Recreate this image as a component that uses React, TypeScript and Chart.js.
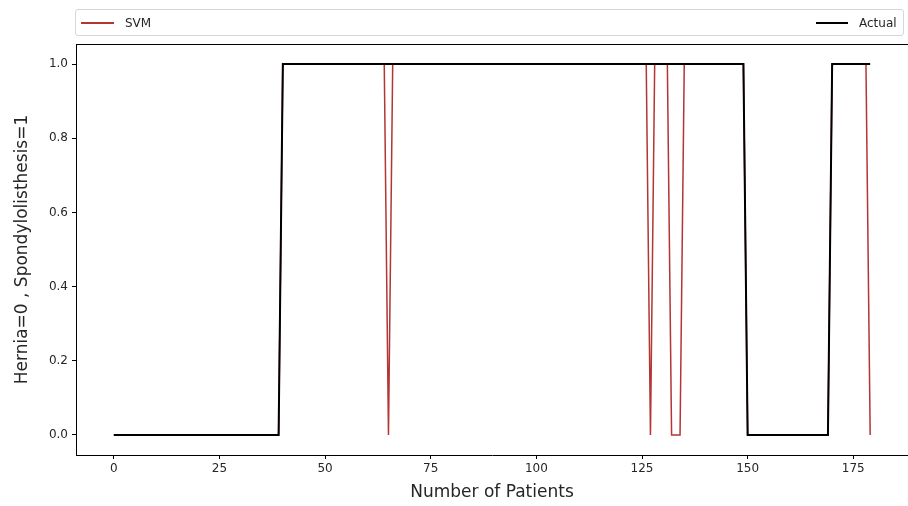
import React, { useEffect, useRef } from "react";
import { Chart, registerables } from "chart.js";

Chart.register(...registerables);

// Patient-by-patient class labels (Hernia=0, Spondylolisthesis=1), patients 0..179
const ACTUAL: number[] = [
  0, 0, 0, 0, 0, 0, 0, 0, 0, 0, 0, 0, 0, 0, 0, 0, 0, 0, 0, 0,
  0, 0, 0, 0, 0, 0, 0, 0, 0, 0, 0, 0, 0, 0, 0, 0, 0, 0, 0, 0,
  1, 1, 1, 1, 1, 1, 1, 1, 1, 1, 1, 1, 1, 1, 1, 1, 1, 1, 1, 1,
  1, 1, 1, 1, 1, 1, 1, 1, 1, 1, 1, 1, 1, 1, 1, 1, 1, 1, 1, 1,
  1, 1, 1, 1, 1, 1, 1, 1, 1, 1, 1, 1, 1, 1, 1, 1, 1, 1, 1, 1,
  1, 1, 1, 1, 1, 1, 1, 1, 1, 1, 1, 1, 1, 1, 1, 1, 1, 1, 1, 1,
  1, 1, 1, 1, 1, 1, 1, 1, 1, 1, 1, 1, 1, 1, 1, 1, 1, 1, 1, 1,
  1, 1, 1, 1, 1, 1, 1, 1, 1, 1, 0, 0, 0, 0, 0, 0, 0, 0, 0, 0,
  0, 0, 0, 0, 0, 0, 0, 0, 0, 0, 1, 1, 1, 1, 1, 1, 1, 1, 1, 1,
];

const SVM: number[] = [
  0, 0, 0, 0, 0, 0, 0, 0, 0, 0, 0, 0, 0, 0, 0, 0, 0, 0, 0, 0,
  0, 0, 0, 0, 0, 0, 0, 0, 0, 0, 0, 0, 0, 0, 0, 0, 0, 0, 0, 0,
  1, 1, 1, 1, 1, 1, 1, 1, 1, 1, 1, 1, 1, 1, 1, 1, 1, 1, 1, 1,
  1, 1, 1, 1, 1, 0, 1, 1, 1, 1, 1, 1, 1, 1, 1, 1, 1, 1, 1, 1,
  1, 1, 1, 1, 1, 1, 1, 1, 1, 1, 1, 1, 1, 1, 1, 1, 1, 1, 1, 1,
  1, 1, 1, 1, 1, 1, 1, 1, 1, 1, 1, 1, 1, 1, 1, 1, 1, 1, 1, 1,
  1, 1, 1, 1, 1, 1, 1, 0, 1, 1, 1, 1, 0, 0, 0, 1, 1, 1, 1, 1,
  1, 1, 1, 1, 1, 1, 1, 1, 1, 1, 0, 0, 0, 0, 0, 0, 0, 0, 0, 0,
  0, 0, 0, 0, 0, 0, 0, 0, 0, 0, 1, 1, 1, 1, 1, 1, 1, 1, 1, 0,
];

const X_TICKS: number[] = [0, 25, 50, 75, 100, 125, 150, 175];
const Y_TICKS: number[] = [0, 0.2, 0.4, 0.6, 0.8, 1.0];

const X_TITLE = "Number of Patients";
const Y_TITLE = "Hernia=0 , Spondylolisthesis=1";
const SVM_LABEL = "SVM";
const ACTUAL_LABEL = "Actual";

const SVM_COLOR = "#b33535";
const ACTUAL_COLOR = "#000000";
const FONT = "'DejaVu Sans', sans-serif";
const TEXT_COLOR = "#262626";

const frameTop = {
  id: "frameTop",
  afterDraw(chart: any) {
    const { ctx, chartArea } = chart;
    ctx.save();
    ctx.strokeStyle = "#000";
    ctx.lineWidth = 1;
    ctx.beginPath();
    ctx.moveTo(chartArea.left, chartArea.top + 0.5);
    ctx.lineTo(chartArea.right, chartArea.top + 0.5);
    ctx.stroke();
    ctx.restore();
  },
};

export default function App() {
  const canvasRef = useRef<HTMLCanvasElement | null>(null);

  useEffect(() => {
    if (!canvasRef.current) return;
    const toPoints = (arr: number[]) => arr.map((y, i) => ({ x: i, y }));
    const chart = new Chart(canvasRef.current, {
      type: "line",
      data: {
        datasets: [
          {
            label: ACTUAL_LABEL,
            data: toPoints(ACTUAL),
            borderColor: ACTUAL_COLOR,
            backgroundColor: ACTUAL_COLOR,
            borderWidth: 2,
            pointRadius: 0,
            tension: 0,
            fill: false,
          },
          {
            label: SVM_LABEL,
            data: toPoints(SVM),
            borderColor: SVM_COLOR,
            backgroundColor: SVM_COLOR,
            borderWidth: 1.5,
            pointRadius: 0,
            tension: 0,
            fill: false,
          },
        ],
      },
      options: {
        responsive: false,
        animation: false,
        layout: { padding: { left: 0, right: 0, top: 44, bottom: 0 } },
        plugins: {
          legend: { display: false },
          tooltip: { enabled: false },
        },
        scales: {
          x: {
            type: "linear",
            min: -8.95,
            max: 187.95,
            afterBuildTicks: (scale: any) => {
              scale.ticks = X_TICKS.map((v) => ({ value: v }));
            },
            afterFit: (scale: any) => {
              scale.height = 51;
            },
            grid: {
              display: true,
              drawOnChartArea: false,
              drawTicks: true,
              tickLength: 4,
              color: "#000",
            },
            border: { display: true, color: "#000", width: 1 },
            ticks: {
              font: { family: FONT, size: 12 },
              color: TEXT_COLOR,
              padding: 3,
              maxRotation: 0,
              autoSkip: false,
              callback: (v: any) => String(v),
            },
            title: {
              display: true,
              text: X_TITLE,
              font: { family: FONT, size: 17 },
              color: TEXT_COLOR,
              padding: { top: 3, bottom: 3 },
            },
          },
          y: {
            type: "linear",
            min: -0.054,
            max: 1.054,
            afterBuildTicks: (scale: any) => {
              scale.ticks = Y_TICKS.map((v) => ({ value: v }));
            },
            afterFit: (scale: any) => {
              scale.width = 76;
            },
            grid: {
              display: true,
              drawOnChartArea: false,
              drawTicks: true,
              tickLength: 4,
              color: "#000",
            },
            border: { display: true, color: "#000", width: 1 },
            ticks: {
              font: { family: FONT, size: 12 },
              color: TEXT_COLOR,
              padding: 4,
              autoSkip: false,
              callback: (v: any) => Number(v).toFixed(1),
            },
            title: {
              display: true,
              text: Y_TITLE,
              font: { family: FONT, size: 17 },
              color: TEXT_COLOR,
              padding: { top: 12, bottom: 0 },
            },
          },
        },
      },
      plugins: [frameTop],
    } as any);
    return () => chart.destroy();
  }, []);

  const legendText: React.CSSProperties = {
    position: "absolute",
    top: 0,
    lineHeight: "27px",
    fontFamily: FONT,
    fontSize: 12,
    color: TEXT_COLOR,
  };

  return (
    <div style={{ position: "fixed", left: 0, top: 0, width: 908, height: 506, background: "#fff" }}>
      <canvas ref={canvasRef} width={908} height={506} style={{ display: "block" }} />
      <div
        style={{
          position: "absolute",
          left: 75,
          top: 9,
          width: 829,
          height: 27,
          boxSizing: "border-box",
          border: "1px solid #d6d6d6",
          borderRadius: 3,
          background: "#fff",
        }}
      >
        <div style={{ position: "absolute", left: 5, top: 12, width: 33, height: 2, background: SVM_COLOR }} />
        <div style={{ ...legendText, left: 49 }}>{SVM_LABEL}</div>
        <div style={{ position: "absolute", left: 740, top: 12, width: 32, height: 2, background: ACTUAL_COLOR }} />
        <div style={{ ...legendText, left: 783 }}>{ACTUAL_LABEL}</div>
      </div>
    </div>
  );
}
